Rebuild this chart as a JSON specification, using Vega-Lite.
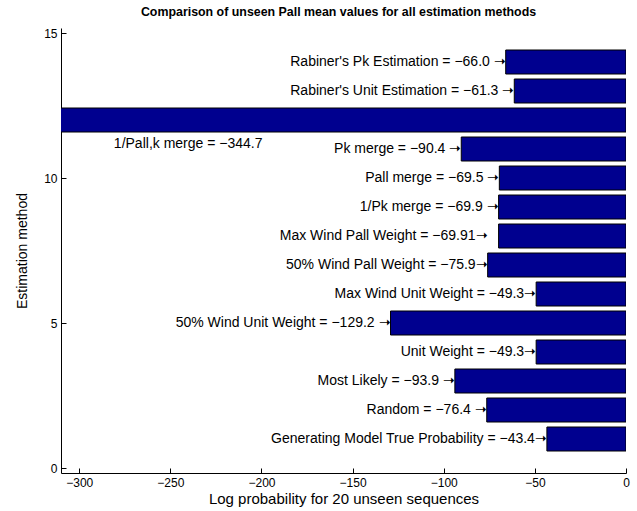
{
  "$schema": "https://vega.github.io/schema/vega-lite/v6.json",
  "width": 565,
  "height": 445,
  "autosize": {"type": "none"},
  "padding": {"left": 61, "top": 28, "right": 11, "bottom": 38},
  "background": "white",
  "config": {
    "font": "Liberation Sans",
    "view": {"stroke": null},
    "axis": {"grid": false, "domainColor": "black", "tickColor": "black", "labelColor": "black", "titleColor": "black", "labelFont": "Liberation Sans", "titleFont": "Liberation Sans", "titleFontWeight": "normal"}
  },
  "title": {
    "text": "Comparison of unseen Pall mean values for all estimation methods",
    "fontSize": 12.4,
    "fontWeight": "bold",
    "font": "Liberation Sans",
    "anchor": "middle",
    "offset": 9,
    "dx": -5,
    "color": "black"
  },
  "data": {
    "values": [
      {"pos": 1, "method": "Generating Model True Probability", "value": -43.4, "label": "Generating Model True Probability = −43.4➝"},
      {"pos": 2, "method": "Random", "value": -76.4, "label": "Random = −76.4 ➝"},
      {"pos": 3, "method": "Most Likely", "value": -93.9, "label": "Most Likely = −93.9 ➝"},
      {"pos": 4, "method": "Unit Weight", "value": -49.3, "label": "Unit Weight = −49.3➝"},
      {"pos": 5, "method": "50% Wind Unit Weight", "value": -129.2, "label": "50% Wind Unit Weight = −129.2 ➝"},
      {"pos": 6, "method": "Max Wind Unit Weight", "value": -49.3, "label": "Max Wind Unit Weight = −49.3➝"},
      {"pos": 7, "method": "50% Wind Pall Weight", "value": -75.9, "label": "50% Wind Pall Weight = −75.9➝"},
      {"pos": 8, "method": "Max Wind Pall Weight", "value": -69.91, "label": "Max Wind Pall Weight = −69.91➝"},
      {"pos": 9, "method": "1/Pk merge", "value": -69.9, "label": "1/Pk merge = −69.9 ➝"},
      {"pos": 10, "method": "Pall merge", "value": -69.5, "label": "Pall merge = −69.5 ➝"},
      {"pos": 11, "method": "Pk merge", "value": -90.4, "label": "Pk merge = −90.4 ➝"},
      {"pos": 12, "method": "1/Pall,k merge", "value": -344.7, "label": "1/Pall,k merge = −344.7"},
      {"pos": 13, "method": "Rabiner's Unit Estimation", "value": -61.3, "label": "Rabiner's Unit Estimation = −61.3 ➝"},
      {"pos": 14, "method": "Rabiner's Pk Estimation", "value": -66.0, "label": "Rabiner's Pk Estimation = −66.0 ➝"}
    ]
  },
  "layer": [
    {
      "mark": {"type": "bar", "orient": "horizontal", "size": 24, "fill": "#00008f", "stroke": "black", "strokeWidth": 1, "clip": true},
      "encoding": {
        "x": {
          "field": "value", "type": "quantitative",
          "scale": {"domain": [-310, 0], "nice": false, "zero": false},
          "axis": {"values": [-300, -250, -200, -150, -100, -50, 0], "tickSize": -5, "labelPadding": 9, "labelFontSize": 12, "title": "Log probability for 20 unseen sequences", "titleFontSize": 15, "titlePadding": 3, "labelFlush": false, "format": "d"}
        },
        "y": {
          "field": "pos", "type": "quantitative",
          "scale": {"domain": [0, 15], "nice": false},
          "axis": {"values": [0, 5, 10, 15], "tickSize": -5, "labelPadding": 9, "labelFontSize": 12, "title": "Estimation method", "titleFontSize": 14, "titlePadding": 14, "labelFlush": false}
        }
      }
    },
    {
      "transform": [{"filter": "datum.value > -310 && datum.method != 'Max Wind Pall Weight'"}],
      "mark": {"type": "text", "align": "right", "baseline": "middle", "fontSize": 14, "font": "Liberation Sans", "color": "black"},
      "encoding": {
        "x": {"field": "value", "type": "quantitative"},
        "y": {"field": "pos", "type": "quantitative"},
        "text": {"field": "label"}
      }
    },
    {
      "transform": [{"filter": "datum.method == 'Max Wind Pall Weight'"}],
      "mark": {"type": "text", "align": "right", "baseline": "middle", "fontSize": 14, "font": "Liberation Sans", "color": "black", "dx": -11},
      "encoding": {
        "x": {"field": "value", "type": "quantitative"},
        "y": {"field": "pos", "type": "quantitative"},
        "text": {"field": "label"}
      }
    },
    {
      "transform": [{"filter": "datum.value <= -310"}],
      "mark": {"type": "text", "align": "left", "baseline": "middle", "fontSize": 14, "font": "Liberation Sans", "color": "black", "dy": 24},
      "encoding": {
        "x": {"datum": -281},
        "y": {"field": "pos", "type": "quantitative"},
        "text": {"field": "label"}
      }
    }
  ]
}
